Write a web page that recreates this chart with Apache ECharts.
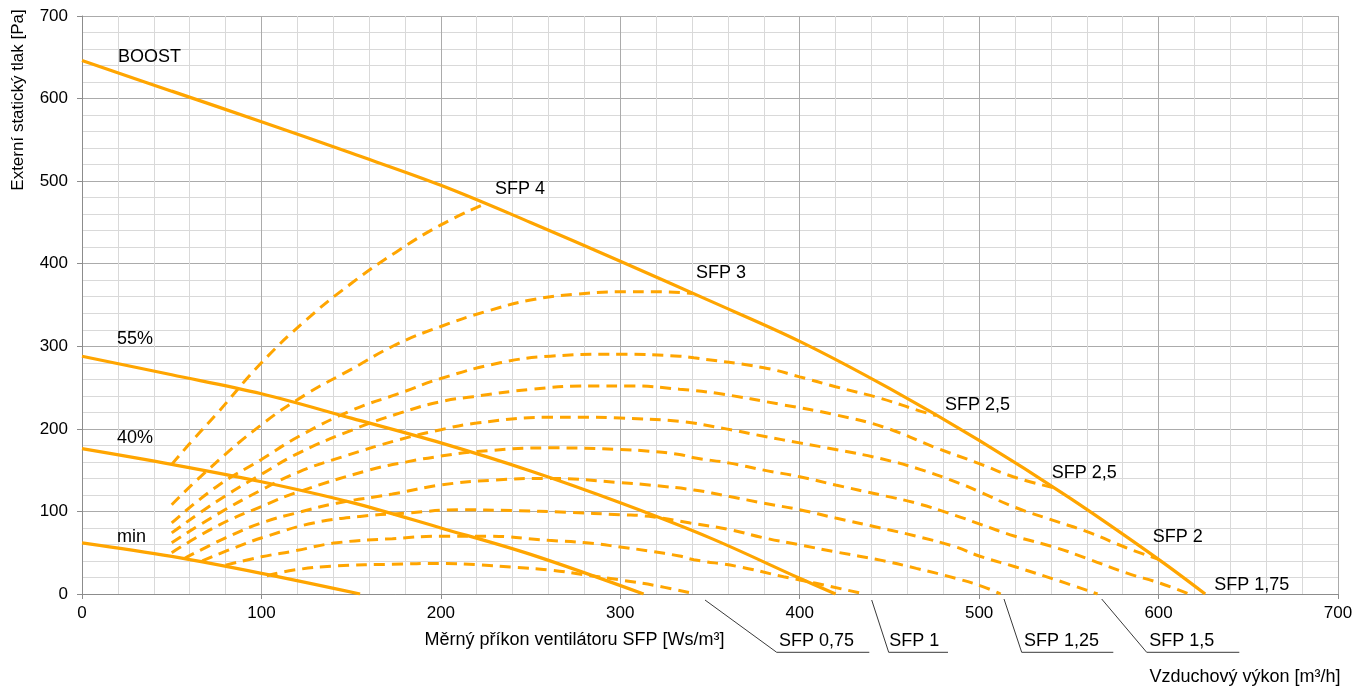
<!DOCTYPE html>
<html>
<head>
<meta charset="utf-8">
<script src="https://cdn.jsdelivr.net/npm/echarts@6/dist/echarts.min.js"></script>
<style>
  html, body { margin: 0; padding: 0; background: #fff; }
  #chart { width: 1365px; height: 691px; }
</style>
</head>
<body>
<div id="chart"></div>
<script>
// Fan curves: [air flow m³/h, external static pressure Pa]
const curveBoost = [[0,646],[50,609],[100,572],[150,534],[200,495],[250,450],[300,403],[350,355],[400,306],[450,249],[500,186],[550,117],[600,42],[626,0]];
const curve55 = [[0,288],[50,265.5],[100,242.5],[150,213],[200,183],[250,149],[300,110.5],[350,68],[400,19],[420,0]];
const curve40 = [[0,176],[50,157],[100,136],[150,111],[200,80],[250,48],[313,0]];
const curveMin = [[0,62],[50,45.5],[100,25],[155,0]];

// Constant SFP lines
const sfp4 = [[50,157],[62,187],[75,218],[100,280],[125,332],[150,376],[175,414],[200,447],[225,473]];
const sfp3 = [[50,108],[70,150],[100,205],[125,242],[150,272],[175,302],[200,324],[225,342],[250,356],[275,363],[300,366],[320,366],[340,364]];
const sfp25a = [[50,86],[75,130],[100,163],[121,191],[151,223],[177,243],[200,261],[233,280],[261,288],[300,290.5],[333,288],[341,286],[380,274],[400,263],[420,251],[445,237],[465,223],[476,216]];
const sfp25b = [[50,74],[75,112],[100,145],[121,171],[151,199],[177,219],[200,233],[218,239],[251,248],[283,252],[307,252],[333,248],[354,243],[391,229],[420,217],[447,202],[476,177],[500,158],[519,142],[541,129]];
const sfp2 = [[50,62],[75,96],[100,126],[121,148],[145,166],[177,187],[200,199],[220,207],[260,214],[280,214],[300,213],[333,209],[359,200],[380,191],[400,183],[420,175],[445,164],[467,151],[489,134],[500,124],[520,105],[543,88],[562,74],[582,56],[600,42]];
const sfp175 = [[50,50],[75,82],[100,106],[121,124],[160,150],[181,160],[200,167],[220,172.5],[261,177],[300,175],[316,173],[333,169],[341,165],[361,158.5],[380,150],[400,142],[420,132],[445,120],[465,110],[487,95],[500,85],[520,70],[543,56],[562,41.5],[582,25.5],[601,13],[617,0]];
const sfp15 = [[57,43],[80,68],[100,86],[121,99],[142,110],[173,121],[200,132],[230,138],[260,140],[300,135],[316,132],[341,126],[361,118],[380,110],[400,102],[420,92],[445,80],[465,70],[487,57],[500,46],[520,33],[543,17],[566,0]];
const sfp125 = [[67,40],[85,56],[103,70],[129,86],[155,94],[181,98],[210,102],[240,101],[270,99],[300,96],[316,94],[339,86],[361,78],[380,68],[400,59.5],[420,51],[445,41],[465,31],[487,19],[502,9],[512,0]];
const sfp1 = [[80,35],[100,45],[118,52],[142,62],[173,67],[200,70],[225,70],[260,65],[281,62],[300,57],[316,52],[333,46],[341,41.5],[365,33.5],[391,21],[409,13],[436,0]];
const sfp075 = [[103,22],[118,29],[142,34],[173,36],[200,37],[220,35.5],[240,32.5],[261,29],[281,23],[300,17],[320,10],[342,0]];

const ORANGE = '#FFA500';
const FONT = 'Liberation Sans, Arial, sans-serif';

function solid(data) {
  return { type: 'line', data, showSymbol: false, smooth: 0.35, z: 3,
    lineStyle: { color: ORANGE, width: 3.2 }, silent: true };
}
function dashed(data) {
  return { type: 'line', data, showSymbol: false, smooth: 0.45, z: 2,
    lineStyle: { color: ORANGE, width: 3, type: [11, 7] }, silent: true };
}

function axis(extra) {
  return Object.assign({
    type: 'value', min: 0, max: 700, interval: 100,
    axisLine: { show: true, lineStyle: { color: '#8c8c8c', width: 1 } },
    axisTick: { show: true, length: 5, lineStyle: { color: '#8c8c8c' } },
    minorTick: { show: false, splitNumber: 5 },
    splitLine: { show: true, lineStyle: { color: '#ababab', width: 1 } },
    minorSplitLine: { show: true, lineStyle: { color: '#d9d9d9', width: 1 } },
    axisLabel: { color: '#000', fontSize: 17, fontFamily: FONT }
  }, extra);
}

function txt(x, y, s, align, size) {
  return { type: 'text', x, y, z: 100, silent: true,
    style: { text: s, fill: '#000', font: (size || 18) + 'px ' + FONT,
      textAlign: align || 'left', textVerticalAlign: 'middle' } };
}
function leader(points) {
  return { type: 'polyline', z: 100, silent: true, shape: { points },
    style: { stroke: '#3a3a3a', lineWidth: 1, fill: null } };
}

const chart = echarts.init(document.getElementById('chart'), null, { renderer: 'canvas' });
chart.setOption({
  animation: false,
  backgroundColor: '#fff',
  grid: { left: 82, right: 27, top: 16, bottom: 97 },
  xAxis: axis({ axisLabel: { color: '#000', fontSize: 17, fontFamily: FONT, margin: 11 } }),
  yAxis: axis({ axisLabel: { color: '#000', fontSize: 17, fontFamily: FONT, margin: 14 } }),
  series: [
    dashed(sfp4), dashed(sfp3), dashed(sfp25a), dashed(sfp25b), dashed(sfp2),
    dashed(sfp175), dashed(sfp15), dashed(sfp125), dashed(sfp1), dashed(sfp075),
    solid(curveBoost), solid(curve55), solid(curve40), solid(curveMin)
  ],
  graphic: [
    txt(118, 56.7, 'BOOST'),
    txt(117, 339.5, '55%'),
    txt(117, 438, '40%'),
    txt(117, 537, 'min'),
    txt(495, 189.3, 'SFP 4'),
    txt(696, 272.7, 'SFP 3'),
    txt(945, 405, 'SFP 2,5'),
    txt(1051.7, 472.7, 'SFP 2,5'),
    txt(1152.7, 537, 'SFP 2'),
    txt(1214.3, 585.5, 'SFP 1,75'),
    txt(779, 640.8, 'SFP 0,75'),
    txt(889.3, 640.8, 'SFP 1'),
    txt(1024, 640.8, 'SFP 1,25'),
    txt(1149.3, 640.8, 'SFP 1,5'),
    leader([[705, 600], [776.7, 652.3], [869.3, 652.3]]),
    leader([[871.7, 600], [888.7, 652.3], [948, 652.3]]),
    leader([[1004, 599], [1021.7, 652.3], [1113.3, 652.3]]),
    leader([[1101.7, 599], [1146.7, 652.3], [1239.3, 652.3]]),
    txt(574.5, 640.5, 'Měrný příkon ventilátoru SFP [Ws/m³]', 'center'),
    txt(1340.5, 677.5, 'Vzduchový výkon [m³/h]', 'right'),
    { type: 'text', x: 18.5, y: 100, z: 100, rotation: Math.PI / 2, silent: true,
      style: { text: 'Externí statický tlak [Pa]', fill: '#000', font: '17px ' + FONT,
        textAlign: 'center', textVerticalAlign: 'middle' } }
  ]
});
</script>
</body>
</html>
